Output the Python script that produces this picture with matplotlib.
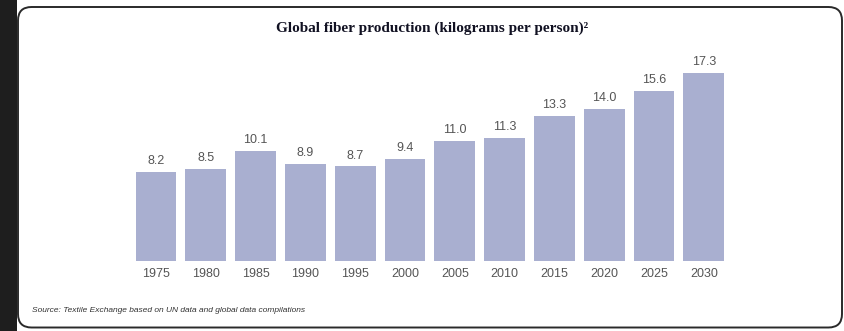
import matplotlib.pyplot as plt
from matplotlib.patches import FancyBboxPatch, Rectangle

years = ['1975', '1980', '1985', '1990', '1995', '2000',
         '2005', '2010', '2015', '2020', '2025', '2030']
kg_per_person = [8.2, 8.5, 10.1, 8.9, 8.7, 9.4,
                 11.0, 11.3, 13.3, 14.0, 15.6, 17.3]

W, H = 845, 331
fig = plt.figure(figsize=(W / 100, H / 100), dpi=100)
fig.patch.set_facecolor('white')

# dark strip on the left and the rounded panel (behind the axes)
fig.patches.append(Rectangle((0, 0), 17 / W, 1, transform=fig.transFigure,
                             facecolor='#1e1e1e', edgecolor='none', zorder=-2))
fig.patches.append(FancyBboxPatch((18 / W, 3.5 / H), 824 / W, 320.5 / H,
                                  boxstyle='round,pad=0,rounding_size=0.016',
                                  mutation_aspect=W / H,
                                  transform=fig.transFigure, facecolor='white',
                                  edgecolor='#2a2a2a', linewidth=1.4, zorder=-1))

ax = fig.add_axes([120 / W, 70 / H, 620 / W, 211 / H])
ax.set_zorder(2)
ax.set_facecolor('none')
x = list(range(len(years)))
bars = ax.bar(x, kg_per_person, width=0.82, color='#a9afd0', zorder=2)
for b, v in zip(bars, kg_per_person):
    ax.annotate(f'{v:.1f}', (b.get_x() + b.get_width() / 2, v),
                xytext=(0, 3.5), textcoords='offset points',
                ha='center', va='bottom', fontsize=9, color='#555555',
                family='Liberation Sans')

ax.set_xticks(x)
ax.set_xticklabels(years, fontsize=9, color='#555555', family='Liberation Sans')
ax.tick_params(axis='x', length=0, pad=5)
ax.set_yticks([])
ax.set_xlim(-0.723, 11.727)
ax.set_ylim(0, 19.4)
for s in ax.spines.values():
    s.set_visible(False)

fig.text(432 / W, 1 - 28 / H, 'Global fiber production (kilograms per person)²',
         ha='center', va='center', fontsize=11, fontweight='bold',
         family='Liberation Serif', color='#111122')
fig.text(32 / W, 1 - 310 / H,
         'Source: Textile Exchange based on UN data and global data compilations',
         ha='left', va='center', fontsize=6, style='italic',
         family='Liberation Sans', color='#333333')

fig.savefig('out.png', dpi=100)
